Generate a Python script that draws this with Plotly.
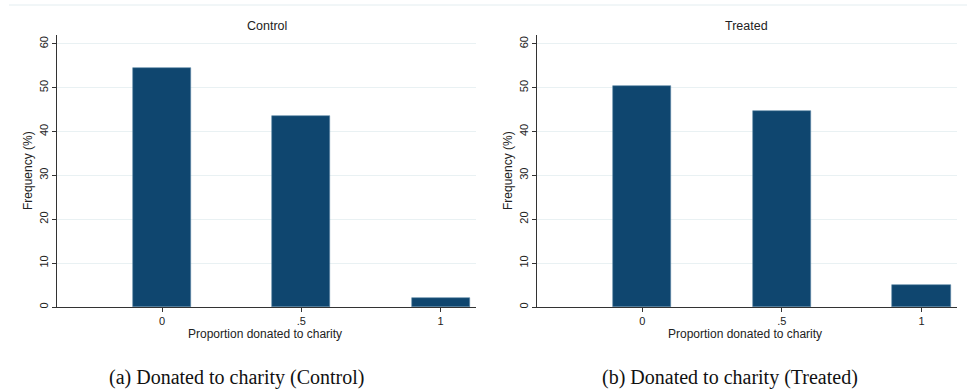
import plotly.graph_objects as go

# Share of participants (%) by proportion donated to charity
categories = [0, 0.5, 1]
tick_labels = ["0", ".5", "1"]
control_pct = [54.4, 43.5, 2.1]
treated_pct = [50.3, 44.6, 5.1]

panel_titles = ["Control", "Treated"]
captions = ["(a) Donated to charity (Control)", "(b) Donated to charity (Treated)"]

W, H = 967, 391
BAR_COLOR = "#0f466f"
GRID_COLOR = "#e9f1f3"
AXIS_COLOR = "#333333"
SANS = "Liberation Sans, Arial, sans-serif"
SERIF = "Liberation Serif, DejaVu Serif, serif"

x_domains = [[57 / W, 476 / W], [537 / W, 957 / W]]
y_domain = [1 - 307 / H, 1 - 35 / H]

fig = go.Figure()
for i, vals in enumerate([control_pct, treated_pct]):
    suffix = "" if i == 0 else str(i + 1)
    fig.add_trace(go.Bar(
        x=categories, y=vals, width=0.208,
        marker=dict(color=BAR_COLOR, line=dict(color="#5d86a6", width=0.6)),
        xaxis="x" + suffix, yaxis="y" + suffix,
        showlegend=False, hoverinfo="x+y",
    ))

axis_common = dict(
    showline=True, linecolor=AXIS_COLOR, linewidth=1,
    ticks="outside", ticklen=4, tickcolor=AXIS_COLOR, tickwidth=1,
    tickfont=dict(family=SANS, size=11, color="#222222"),
    zeroline=False, fixedrange=True,
)

layout = dict(
    width=W, height=H,
    margin=dict(l=0, r=0, t=0, b=0),
    paper_bgcolor="white", plot_bgcolor="white",
    bargap=0, showlegend=False,
)
for i in range(2):
    suffix = "" if i == 0 else str(i + 1)
    layout["xaxis" + suffix] = dict(
        axis_common, domain=x_domains[i], range=[-0.377, 1.127],
        tickvals=categories, ticktext=tick_labels, showgrid=False,
        anchor="y" + suffix,
    )
    layout["yaxis" + suffix] = dict(
        axis_common, domain=y_domain, range=[0, 62],
        tickvals=[0, 10, 20, 30, 40, 50, 60], tickangle=-90,
        showgrid=True, gridcolor=GRID_COLOR, gridwidth=1,
        anchor="x" + suffix,
    )
fig.update_layout(**layout)


def label(text, x_px, y_px, font, angle=0):
    return dict(text=text, x=x_px / W, y=1 - y_px / H, xref="paper", yref="paper",
                xanchor="center", yanchor="middle", textangle=angle,
                showarrow=False, font=font)


annotations = []
for i in range(2):
    x0, x1 = x_domains[i]
    xc_px = (x0 + x1) / 2 * W
    annotations.append(label(panel_titles[i], xc_px, 26,
                             dict(family=SANS, size=12.5, color="#222222")))
    annotations.append(label("Proportion donated to charity", xc_px - 2, 334,
                             dict(family=SANS, size=12, color="#222222")))
    annotations.append(label("Frequency (%)", x0 * W - 29, 171,
                             dict(family=SANS, size=12, color="#222222"), angle=-90))
caption_px = [236, 730]
for i in range(2):
    annotations.append(label(captions[i], caption_px[i], 377,
                             dict(family=SERIF, size=20, color="#111111")))
fig.update_layout(annotations=annotations)

# thin rule along the top of the figure
fig.add_shape(type="line", xref="paper", yref="paper", x0=9 / W, x1=1, y0=1 - 5 / H, y1=1 - 5 / H,
              line=dict(color="#e3edf0", width=1))

fig.write_html("out.html")
